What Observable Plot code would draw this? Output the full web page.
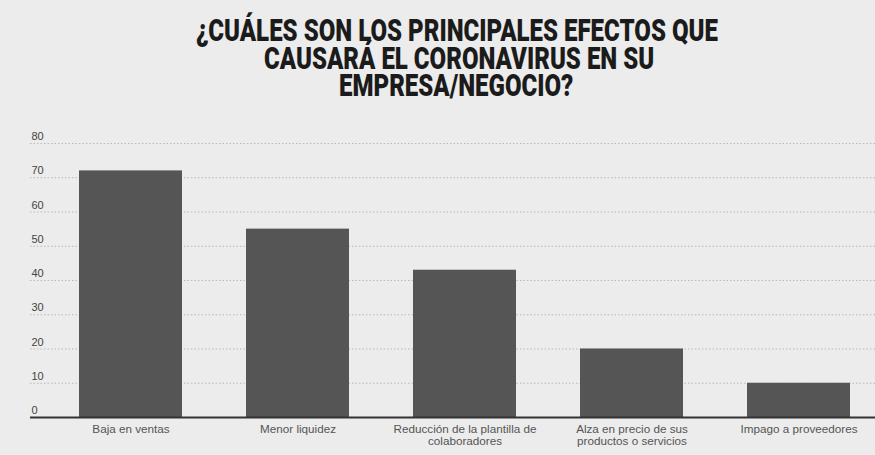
<!DOCTYPE html>
<html>
<head>
<meta charset="utf-8">
<script src="https://cdn.jsdelivr.net/npm/d3@7"></script>
<script src="https://cdn.jsdelivr.net/npm/@observablehq/plot@0.6"></script>
<style>
  html, body { margin: 0; padding: 0; background: #ececec; }
  #wrap { width: 875px; height: 455px; overflow: hidden; background: #ececec; }
  #title {
    position: relative; height: 110px; width: 875px;
    font-family: "Roboto", "Liberation Sans", sans-serif;
    font-weight: 900; font-size: 31px; color: #1b1b1b;
  }
  #title .line {
    position: absolute; left: 0; white-space: nowrap; line-height: 0.8; transform-origin: 0 0;
  }
  svg { display: block; }
</style>
</head>
<body>
<div id="wrap">
  <div id="title">
    <span class="line" data-cx="457" data-top="19">¿CUÁLES SON LOS PRINCIPALES EFECTOS QUE</span>
    <span class="line" data-cx="459" data-top="47">CAUSARÁ EL CORONAVIRUS EN SU</span>
    <span class="line" data-cx="456" data-top="74">EMPRESA/NEGOCIO?</span>
  </div>
  <div id="chart"></div>
</div>
<script>
const categories = ["Baja en ventas", "Menor liquidez", "Reducción de la plantilla de colaboradores", "Alza en precio de sus productos o servicios", "Impago a proveedores"];
const tickLabels = ["Baja en ventas", "Menor liquidez", "Reducción de la plantilla de\ncolaboradores", "Alza en precio de sus\nproductos o servicios", "Impago a proveedores"];
const values = [72, 55, 43, 20, 10];
const yTicks = [0, 10, 20, 30, 40, 50, 60, 70, 80];

// condense the title lines horizontally (no condensed font installed)
const lines = document.querySelectorAll("#title .line");
const w0 = lines[0].getBoundingClientRect().width;
const sx = 522 / w0;
lines.forEach(el => {
  const w = el.getBoundingClientRect().width * sx;
  const cx = +el.dataset.cx;
  el.style.left = (cx - w / 2) + "px";
  el.style.top = el.dataset.top + "px";
  el.style.transform = `scaleX(${sx})`;
});

const data = categories.map((c, i) => ({cat: c, value: values[i]}));

const chart = Plot.plot({
  width: 875,
  height: 345,
  marginLeft: 30,
  marginRight: 0,
  marginTop: 33,
  marginBottom: 38,
  style: {background: "transparent", fontFamily: "'Liberation Sans', Arial, sans-serif"},
  x: {domain: categories, paddingInner: 0.385, paddingOuter: 0.2135, align: 0.657, label: null},
  y: {domain: [0, 80], label: null},
  marks: [
    Plot.gridY(yTicks, {stroke: "#888", strokeOpacity: 0.5, strokeDasharray: "1.5,2"}),
    Plot.barY(data, {x: "cat", y: "value", fill: "#555555"}),
    Plot.ruleY([0], {stroke: "#333", strokeWidth: 2}),
    Plot.axisY(yTicks, {tickSize: 0, tickPadding: 0, textAnchor: "start", dx: 1, dy: -7, fill: "#444", fontSize: 11, label: null}),
    Plot.axisX({tickSize: 0, tickPadding: 7, tickFormat: d => tickLabels[categories.indexOf(d)], fill: "#555", fontSize: 11.7, label: null})
  ]
});
document.getElementById("chart").appendChild(chart);
</script>
</body>
</html>
